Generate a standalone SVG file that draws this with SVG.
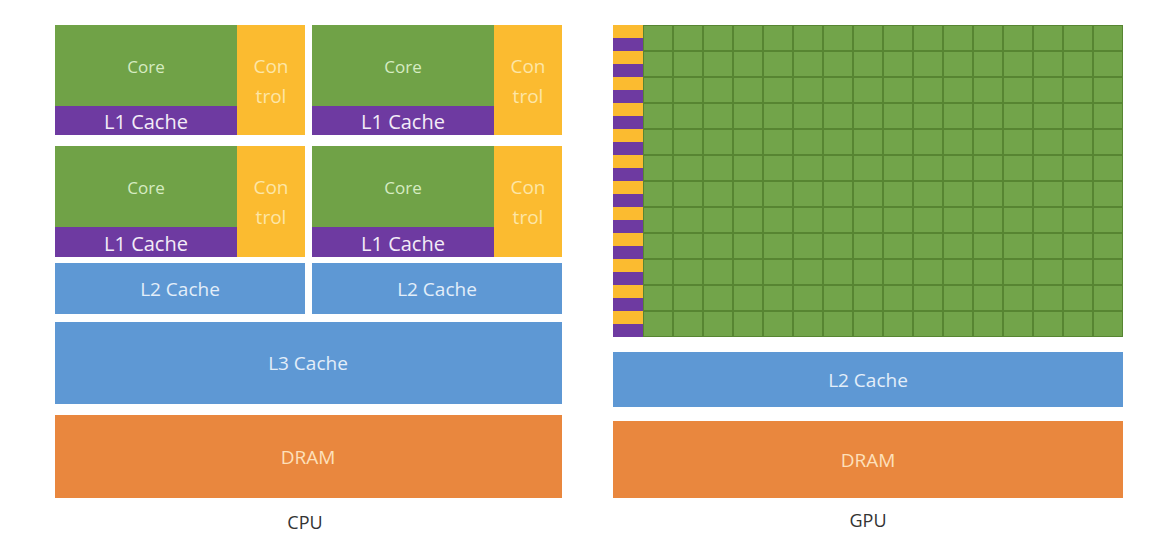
<svg xmlns="http://www.w3.org/2000/svg" width="1149" height="550" viewBox="0 0 1149 550">
<style>
.core{fill:#70a247}
.ctrl{fill:#fbbb30}
.l1{fill:#6e3aa1}
.blue{fill:#5e98d4}
.dram{fill:#e9873e}
text{font-family:"Open Sans","Liberation Sans",sans-serif;text-anchor:middle;dominant-baseline:central}
.tc{fill:#d6ecc2;font-size:17px}
.tk{fill:#fde6a6;font-size:19px}
.tl1{fill:#f3ecf7;font-size:20px}
.tb{fill:#e3eef9;font-size:19px}
.td{fill:#fde0bb;font-size:19px}
.lab{fill:#333;font-size:18px}
</style>
<defs>
<pattern id="stripes" patternUnits="userSpaceOnUse" x="613" y="25" width="30" height="26">
<rect width="30" height="13" fill="#fbbb30"/>
<rect y="13" width="30" height="13" fill="#6e3aa1"/>
</pattern>
<pattern id="grid" patternUnits="userSpaceOnUse" x="643" y="25" width="30" height="26">
<rect width="30" height="26" fill="#72a44a"/>
<rect x="-1" width="2" height="26" fill="#578532"/>
<rect x="29" width="2" height="26" fill="#578532"/>
<rect y="-1" width="30" height="2" fill="#578532"/>
<rect y="25" width="30" height="2" fill="#578532"/>
</pattern>
</defs>
<rect width="1149" height="550" fill="#ffffff"/>
<g id="cpu">
<g id="core1">
<rect class="core" x="55" y="25" width="182" height="81"/>
<rect class="l1" x="55" y="106" width="182" height="29"/>
<rect class="ctrl" x="237" y="25" width="68" height="110"/>
<text class="tc" x="146" y="66">Core</text>
<text class="tl1" x="146" y="121">L1 Cache</text>
<text class="tk" x="271" y="66">Con</text>
<text class="tk" x="271" y="96">trol</text>
</g>
<g id="core2">
<rect class="core" x="312" y="25" width="182" height="81"/>
<rect class="l1" x="312" y="106" width="182" height="29"/>
<rect class="ctrl" x="494" y="25" width="68" height="110"/>
<text class="tc" x="403" y="66">Core</text>
<text class="tl1" x="403" y="121">L1 Cache</text>
<text class="tk" x="528" y="66">Con</text>
<text class="tk" x="528" y="96">trol</text>
</g>
<g id="core3">
<rect class="core" x="55" y="146" width="182" height="81"/>
<rect class="l1" x="55" y="227" width="182" height="30"/>
<rect class="ctrl" x="237" y="146" width="68" height="111"/>
<text class="tc" x="146" y="187">Core</text>
<text class="tl1" x="146" y="243">L1 Cache</text>
<text class="tk" x="271" y="187">Con</text>
<text class="tk" x="271" y="217">trol</text>
</g>
<g id="core4">
<rect class="core" x="312" y="146" width="182" height="81"/>
<rect class="l1" x="312" y="227" width="182" height="30"/>
<rect class="ctrl" x="494" y="146" width="68" height="111"/>
<text class="tc" x="403" y="187">Core</text>
<text class="tl1" x="403" y="243">L1 Cache</text>
<text class="tk" x="528" y="187">Con</text>
<text class="tk" x="528" y="217">trol</text>
</g>
<g id="cpu-l2a">
<rect class="blue" x="55" y="263" width="250" height="51"/>
<text class="tb" x="180" y="289">L2 Cache</text>
</g>
<g id="cpu-l2b">
<rect class="blue" x="312" y="263" width="250" height="51"/>
<text class="tb" x="437" y="289">L2 Cache</text>
</g>
<g id="cpu-l3">
<rect class="blue" x="55" y="322" width="507" height="82"/>
<text class="tb" x="308" y="363">L3 Cache</text>
</g>
<g id="cpu-dram">
<rect class="dram" x="55" y="415" width="507" height="83"/>
<text class="td" x="308" y="457">DRAM</text>
</g>
<text class="lab" x="305" y="522">CPU</text>
</g>
<g id="gpu">
<g id="gpu-cores">
<rect x="613" y="25" width="30" height="312" fill="url(#stripes)"/>
<rect x="643" y="25" width="480" height="312" fill="url(#grid)"/>
</g>
<g id="gpu-l2">
<rect class="blue" x="613" y="352" width="510" height="55"/>
<text class="tb" x="868" y="380">L2 Cache</text>
</g>
<g id="gpu-dram">
<rect class="dram" x="613" y="421" width="510" height="77"/>
<text class="td" x="868" y="460">DRAM</text>
</g>
<text class="lab" x="868" y="520">GPU</text>
</g>
<g id="connectors"/>
</svg>
